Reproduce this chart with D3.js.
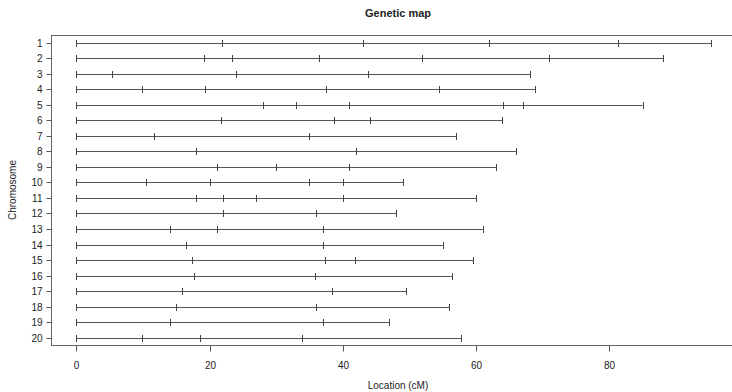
<!DOCTYPE html>
<html>
<head>
<meta charset="utf-8">
<script src="https://cdn.jsdelivr.net/npm/d3@7"></script>
<style>
  body { margin: 0; background: #fff; }
  text { font-family: "Liberation Sans", Arial, sans-serif; fill: #222; }
</style>
</head>
<body>
<main></main>
<script>
// chromosome names and marker positions (cM)
const chromosomes = ["1","2","3","4","5","6","7","8","9","10","11","12","13","14","15","16","17","18","19","20"];
const markers = [
    [0, 21.8, 43.0, 62.0, 81.3, 95.3],
    [0, 19.1, 23.3, 36.5, 51.9, 71.0, 88.1],
    [0, 5.4, 24.0, 43.8, 68.1],
    [0, 9.9, 19.3, 37.5, 54.5, 68.9],
    [0, 28.0, 33.0, 41.0, 64.1, 67.0, 85.0],
    [0, 21.7, 38.7, 44.1, 63.9],
    [0, 11.6, 35.0, 57.0],
    [0, 18.0, 42.0, 66.0],
    [0, 21.1, 30.0, 41.0, 63.0],
    [0, 10.5, 20.0, 35.0, 40.1, 49.1],
    [0, 17.9, 22.0, 27.0, 40.1, 60.0],
    [0, 22.0, 36.0, 48.0],
    [0, 14.0, 21.1, 37.0, 61.0],
    [0, 16.5, 37.0, 55.0],
    [0, 17.3, 37.4, 41.9, 59.6],
    [0, 17.7, 35.9, 56.4],
    [0, 15.8, 38.4, 49.5],
    [0, 15.0, 36.0, 56.0],
    [0, 14.0, 37.0, 47.0],
    [0, 9.8, 18.6, 33.9, 57.8]
];
const xTicks = [0, 20, 40, 60, 80];

const width = 732, height = 392;
const box = { left: 51, top: 35, right: 745, bottom: 345 };

const svg = d3.select("main")
    .append("svg")
    .attr("width", width)
    .attr("height", height);

const x = d3.scaleLinear().domain([0, 80]).range([76.3, 609.3]);
const y = d3.scalePoint().domain(chromosomes).range([42.7, 337.7]);

// plot box
svg.append("rect")
    .attr("x", box.left + 0.5)
    .attr("y", box.top + 0.5)
    .attr("width", box.right - box.left)
    .attr("height", box.bottom - box.top)
    .attr("fill", "none")
    .attr("stroke", "#666")
    .attr("stroke-width", 1);

// chromosome lines
const rows = svg.append("g").attr("id", "rows")
    .selectAll("g")
    .data(chromosomes)
    .join("g");

rows.append("line")
    .attr("x1", (d, i) => x(0))
    .attr("x2", (d, i) => x(d3.max(markers[i])))
    .attr("y1", d => Math.round(y(d)) + 0.5)
    .attr("y2", d => Math.round(y(d)) + 0.5)
    .attr("stroke", "#555")
    .attr("stroke-width", 1);

// marker ticks
rows.selectAll(".marker")
    .data((d, i) => markers[i].map(m => ({ chr: d, pos: m })))
    .join("line")
    .attr("class", "marker")
    .attr("x1", d => Math.round(x(d.pos)) + 0.5)
    .attr("x2", d => Math.round(x(d.pos)) + 0.5)
    .attr("y1", d => Math.round(y(d.chr)) - 3)
    .attr("y2", d => Math.round(y(d.chr)) + 4)
    .attr("stroke", "#444")
    .attr("stroke-width", 1);

// x axis
const xAxis = svg.append("g")
    .attr("transform", "translate(0," + (box.bottom + 0.5) + ")")
    .call(d3.axisBottom(x).tickValues(xTicks).tickSize(6).tickPadding(10));
xAxis.select(".domain").remove();
xAxis.selectAll("line").attr("stroke", "#555");
xAxis.selectAll(".tick").attr("transform", d => "translate(" + (Math.round(x(d)) + 0.5) + ",0)");
xAxis.selectAll("text")
    .style("font-family", "'Liberation Sans', Arial, sans-serif")
    .style("font-size", "10px")
    .attr("fill", "#222");

// y axis
const yAxis = svg.append("g")
    .attr("transform", "translate(" + (box.left + 0.5) + ",0)")
    .call(d3.axisLeft(y).tickSize(5).tickPadding(4));
yAxis.select(".domain").remove();
yAxis.selectAll(".tick").attr("transform", d => "translate(0," + (Math.round(y(d)) + 0.5) + ")");
yAxis.selectAll("line").attr("stroke", "#555");
yAxis.selectAll("text")
    .style("font-family", "'Liberation Sans', Arial, sans-serif")
    .style("font-size", "10px")
    .attr("fill", "#222");

// titles
svg.append("text")
    .attr("x", 398)
    .attr("y", 17)
    .attr("text-anchor", "middle")
    .style("font-size", "11px")
    .style("font-weight", "bold")
    .text("Genetic map");

svg.append("text")
    .attr("x", 398)
    .attr("y", 389)
    .attr("text-anchor", "middle")
    .style("font-size", "10px")
    .text("Location (cM)");

svg.append("text")
    .attr("transform", "translate(16,190) rotate(-90)")
    .attr("text-anchor", "middle")
    .style("font-size", "10px")
    .text("Chromosome");
</script>
</body>
</html>
